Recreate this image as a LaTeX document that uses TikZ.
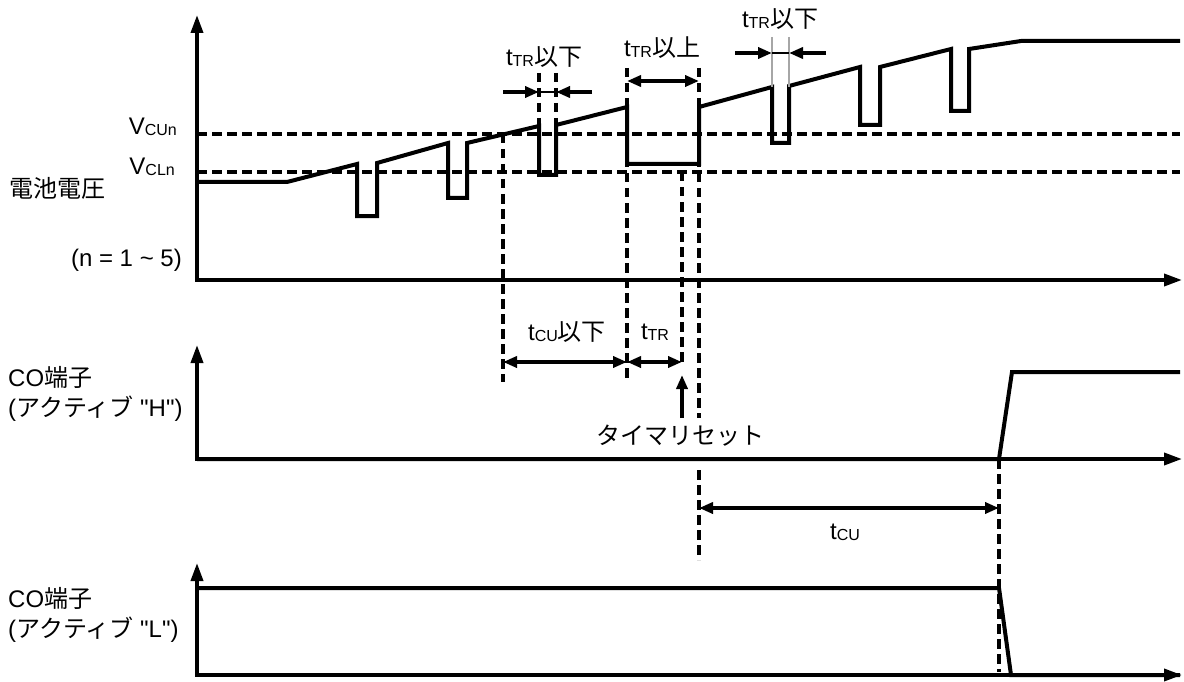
\documentclass[tikz,border=0pt]{standalone}
\usepackage{fontspec}
\setmainfont{Liberation Sans}
\newfontfamily\jp{Noto Sans CJK JP}
\newfontfamily\qf{Liberation Sans}[Ligatures=TeXOff]
\usetikzlibrary{arrows.meta}
\newcommand\sbs[1]{\raisebox{-1pt}{\fontsize{16}{16}\selectfont #1}}
\newcommand\dq{{\qf\symbol{34}}}
\begin{document}
\begin{tikzpicture}[x=1pt,y=-1pt,
  axis/.style={line width=3.6pt,{Triangle[length=18pt,width=12pt]}-{Triangle[length=18pt,width=12pt]}},
  wave/.style={line width=4pt,line join=miter},
  guide/.style={line width=3.2pt,dash pattern=on 9.5pt off 5.5pt},
  dim/.style={line width=3.6pt,{Triangle[length=14pt,width=11pt]}-{Triangle[length=14pt,width=11pt]}},
  pin/.style={line width=3.6pt,-{Triangle[length=14pt,width=11pt]}},
  thinline/.style={line width=1.6pt},
  grayline/.style={line width=1.8pt,draw=black!35},
  lbl/.style={inner sep=0pt,font=\fontsize{24}{24}\selectfont},
]
\useasboundingbox (0,0) rectangle (1184,682);

% ---------- top panel: battery voltage ----------
\draw[axis] (197,15) -- (197,280) -- (1182,280);
\draw[guide] (197,134) -- (1180,134);
\draw[guide] (197,172) -- (1180,172);

\draw[wave] (197,182) -- (287,182) -- (357,164) -- (357,216) -- (377,216) -- (377,163)
  -- (448,143) -- (448,198) -- (467,198) -- (467,143)
  -- (539,126) -- (539,175) -- (556,175) -- (556,125)
  -- (627,107) -- (627,164) -- (699,164) -- (699,107)
  -- (772,87) -- (772,143) -- (789,143) -- (789,86)
  -- (860,67) -- (860,125) -- (880,125) -- (880,67)
  -- (951,49) -- (951,111) -- (969,111) -- (969,49)
  -- (1021,41) -- (1180,41);

% vertical guides
\draw[guide] (503,134) -- (503,382);
\draw[guide] (539,73) -- (539,175);
\draw[guide] (556,73) -- (556,175);
\draw[guide] (627,68) -- (627,380);
\draw[guide] (699,68) -- (699,418);
\draw[guide] (699,470) -- (699,560);
\draw[guide] (682,172) -- (682,362);
\draw[grayline] (772,37) -- (772,87);
\draw[grayline] (789,37) -- (789,87);

% labels left
\node[lbl,anchor=west] (batt) at (9,188) {{\jp 電池電圧}};
\node[lbl,anchor=east] (vcu) at (177,127) {V\sbs{CUn}};
\node[lbl,anchor=east] (vcl) at (175,167) {V\sbs{CLn}};
\node[lbl,anchor=east] (nrange) at (182,260) {(n = 1 \textasciitilde{} 5)};

% tTR below (1)
\coordinate (a1l) at (503,92); \coordinate (a1m) at (539,92);
\coordinate (a1n) at (556,92); \coordinate (a1r) at (592,92);
\draw[pin] (a1l) -- (a1m);
\draw[pin] (a1r) -- (a1n);
\draw[thinline] (a1m) -- (a1n);
\node[lbl] (ttr1) at (544,57) {t\sbs{TR}{\jp 以下}};

% tTR above
\coordinate (b1l) at (627,81); \coordinate (b1r) at (699,81);
\draw[dim] (b1l) -- (b1r);
\node[lbl] (ttr2) at (662,48) {t\sbs{TR}{\jp 以上}};

% tTR below (2)
\coordinate (c1l) at (735,53); \coordinate (c1m) at (772,53);
\coordinate (c1n) at (789,53); \coordinate (c1r) at (826,53);
\draw[pin] (c1l) -- (c1m);
\draw[pin] (c1r) -- (c1n);
\draw[thinline] (c1m) -- (c1n);
\node[lbl] (ttr3) at (780,19) {t\sbs{TR}{\jp 以下}};

% tCU below and tTR
\coordinate (d1l) at (503,362); \coordinate (d1m) at (627,362); \coordinate (d1r) at (682,362);
\draw[dim] (d1l) -- (d1m);
\draw[dim] (d1m) -- (d1r);
\node[lbl] (tcu1) at (567,332) {t\sbs{CU}{\jp 以下}};
\node[lbl] (ttr4) at (655,332) {t\sbs{TR}};

% timer reset
\node[lbl] (reset) at (680,436) {{\jp タイマリセット}};
\coordinate (r1) at (682,418); \coordinate (r2) at (682,375);
\draw[pin] (r1) -- (r2);

% ---------- middle panel: CO active H ----------
\draw[axis] (197,345) -- (197,459) -- (1182,459);
\draw[wave] (197,459) -- (999,459) -- (1012,372) -- (1180,372);
\node[lbl,anchor=west] (coh1) at (8,377) {CO{\jp 端子}};
\node[lbl,anchor=west] (coh2) at (8,409) {({\jp アクティブ} \dq H\dq)};

\coordinate (e1l) at (699,508); \coordinate (e1r) at (999,508);
\draw[dim] (e1l) -- (e1r);
\node[lbl] (tcu2) at (845,532) {t\sbs{CU}};
\draw[guide] (999,459) -- (999,672);

% ---------- bottom panel: CO active L ----------
\draw[axis] (197,563) -- (197,675) -- (1182,675);
\draw[wave] (197,588) -- (999,588) -- (1011,675) -- (1180,675);
\node[lbl,anchor=west] (col1) at (8,598) {CO{\jp 端子}};
\node[lbl,anchor=west] (col2) at (8,630) {({\jp アクティブ} \dq L\dq)};
\end{tikzpicture}
\end{document}
